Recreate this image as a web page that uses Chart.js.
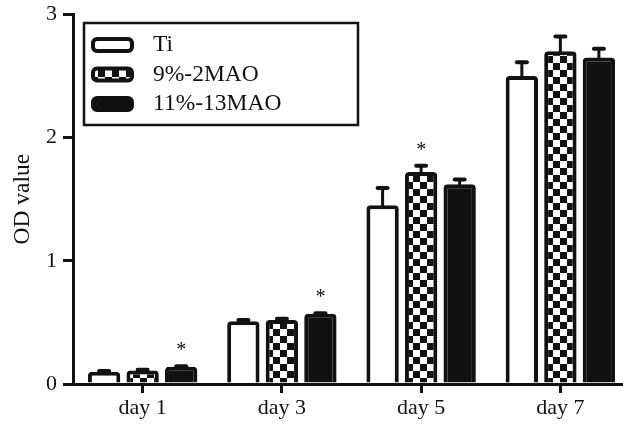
<!DOCTYPE html>
<html>
<head>
<meta charset="utf-8">
<script src="https://cdn.jsdelivr.net/npm/chart.js@4"></script>
<style>
  html, body { margin: 0; padding: 0; background: #fff; overflow: hidden; }
  #wrap { width: 630px; height: 424px; }
</style>
</head>
<body>
<div id="wrap"><canvas id="odChart" width="630" height="424"></canvas></div>
<script>
(function() {
    'use strict';

    /* ---- Data ---- */
    var categories = ['day 1', 'day 3', 'day 5', 'day 7'];
    var seriesNames = ['Ti', '9%-2MAO', '11%-13MAO'];
    var tiValues = [0.10, 0.51, 1.45, 2.50];
    var tiErrors = [0.005, 0.01, 0.14, 0.11];
    var mao9Values = [0.11, 0.52, 1.72, 2.70];
    var mao9Errors = [0.005, 0.01, 0.05, 0.12];
    var mao11Values = [0.14, 0.57, 1.62, 2.65];
    var mao11Errors = [0.005, 0.005, 0.04, 0.07];
    var tiStars = [false, false, false, false];
    var mao9Stars = [false, false, true, false];
    var mao11Stars = [true, true, false, false];
    var yTicks = [0, 1, 2, 3];

    var INK = '#111';
    var SERIF = '"Liberation Serif", "DejaVu Serif", serif';

    /* ---- Checker pattern for the 9% series ---- */
    function makeChecker() {
        var c = document.createElement('canvas');
        c.width = 14; c.height = 14;
        var g = c.getContext('2d');
        g.fillStyle = '#fff'; g.fillRect(0, 0, 14, 14);
        g.fillStyle = INK;
        g.fillRect(0, 0, 7, 7);
        g.fillRect(7, 7, 7, 7);
        return g.createPattern(c, 'repeat');
    }
    var checker = makeChecker();
    var fills = ['#fff', checker, INK];

    /* ---- Error bars + significance stars ---- */
    var errorBarPlugin = {
        id: 'errorBars',
        afterDatasetsDraw: function(chart) {
            var ctx = chart.ctx;
            var yScale = chart.scales.y;
            ctx.save();
            chart.data.datasets.forEach(function(ds, i) {
                var meta = chart.getDatasetMeta(i);
                meta.data.forEach(function(bar, j) {
                    var v = ds.data[j];
                    var top = yScale.getPixelForValue(v + ds.errors[j]);
                    ctx.strokeStyle = INK;
                    ctx.lineCap = 'round';
                    ctx.lineWidth = 3;
                    ctx.beginPath();
                    ctx.moveTo(bar.x, bar.y);
                    ctx.lineTo(bar.x, top);
                    ctx.stroke();
                    ctx.lineWidth = 4;
                    ctx.beginPath();
                    ctx.moveTo(bar.x - 5, top);
                    ctx.lineTo(bar.x + 5, top);
                    ctx.stroke();
                    if (ds.stars[j]) {
                        ctx.fillStyle = INK;
                        ctx.font = '20px ' + SERIF;
                        ctx.textAlign = 'center';
                        ctx.textBaseline = 'alphabetic';
                        ctx.fillText('*', bar.x, top - 10);
                    }
                });
            });
            ctx.restore();
        }
    };

    /* ---- Boxed legend ---- */
    var boxLegendPlugin = {
        id: 'boxLegend',
        afterDraw: function(chart) {
            var ctx = chart.ctx;
            ctx.save();
            ctx.strokeStyle = INK;
            ctx.lineWidth = 2.5;
            ctx.strokeRect(84, 23, 274, 102);
            seriesNames.forEach(function(name, i) {
                var y = 37 + i * 29.5;
                ctx.beginPath();
                ctx.roundRect(93, y + 2, 39, 12, 4);
                ctx.fillStyle = fills[i];
                ctx.fill();
                ctx.lineWidth = 4;
                ctx.stroke();
                ctx.fillStyle = INK;
                ctx.font = '23.5px ' + SERIF;
                ctx.textAlign = 'left';
                ctx.textBaseline = 'middle';
                ctx.fillText(name, 153, y + 8);
            });
            ctx.restore();
        }
    };

    function makeSet(label, data, errors, stars, fill) {
        return {
            label: label,
            data: data,
            errors: errors,
            stars: stars,
            backgroundColor: fill,
            borderColor: INK,
            borderWidth: 4,
            borderRadius: 4,
            borderSkipped: 'bottom',
            barPercentage: 0.84,
            categoryPercentage: 0.83
        };
    }

    new Chart(document.getElementById('odChart').getContext('2d'), {
        type: 'bar',
        data: {
            labels: categories,
            datasets: [
                makeSet(seriesNames[0], tiValues, tiErrors, tiStars, fills[0]),
                makeSet(seriesNames[1], mao9Values, mao9Errors, mao9Stars, fills[1]),
                makeSet(seriesNames[2], mao11Values, mao11Errors, mao11Stars, fills[2])
            ]
        },
        options: {
            responsive: false,
            animation: false,
            layout: { padding: { top: 9, right: 0, left: 0, bottom: 0 } },
            plugins: { legend: { display: false }, tooltip: { enabled: false } },
            scales: {
                x: {
                    afterFit: function(s) { s.height = 40; },
                    border: { color: INK, width: 3 },
                    grid: { offset: false, drawOnChartArea: false, drawTicks: true, tickLength: 9, color: INK, lineWidth: 3 },
                    ticks: { color: INK, font: { family: SERIF, size: 22 }, padding: 2 }
                },
                y: {
                    min: 0, max: 3,
                    afterFit: function(s) { s.width = 73; },
                    afterBuildTicks: function(s) { s.ticks = yTicks.map(function(v) { return { value: v }; }); },
                    border: { color: INK, width: 3 },
                    grid: { drawOnChartArea: false, drawTicks: true, tickLength: 10, color: INK, lineWidth: 3 },
                    ticks: { color: INK, font: { family: SERIF, size: 22, lineHeight: 0.75 }, padding: 6 },
                    title: { display: true, text: 'OD value', color: INK, font: { family: SERIF, size: 23.5 }, padding: { top: 9 } }
                }
            }
        },
        plugins: [errorBarPlugin, boxLegendPlugin]
    });
})();
</script>
</body>
</html>
